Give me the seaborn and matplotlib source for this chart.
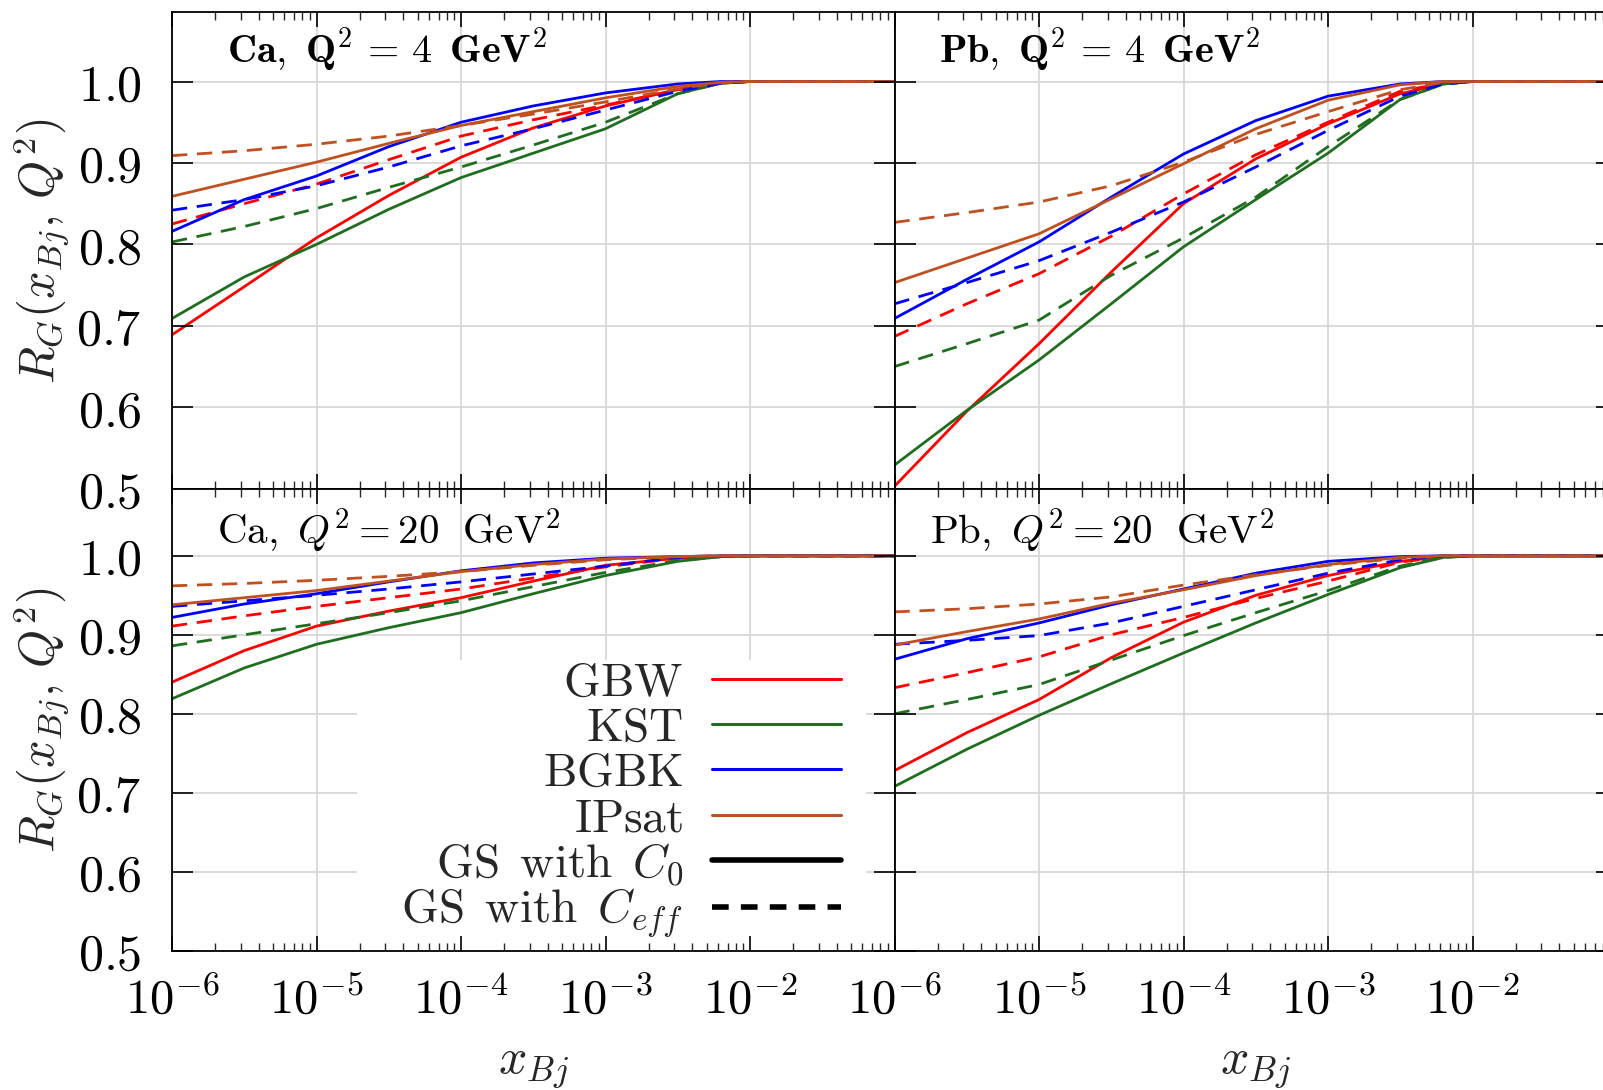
import numpy as np
import pandas as pd
import matplotlib
matplotlib.use("Agg")
import matplotlib.pyplot as plt
import seaborn as sns
from matplotlib.lines import Line2D
from matplotlib.patches import Rectangle
from matplotlib.ticker import FixedLocator, FuncFormatter, LogLocator, NullFormatter

# ---------------- data ----------------
xbj = [1e-6, 3.16e-6, 1e-5, 3.16e-5, 1e-4, 3.16e-4, 1e-3, 3.16e-3, 6.3e-3, 1e-2, 1e-1]

models = ["GBW", "KST", "BGBK", "IPsat"]
colors = ["#ff0000", "#1f6e1f", "#0000ff", "#c0501f"]

# Ca, Q^2 = 4 GeV^2
ca4_gbw_c0 = [0.689, 0.748, 0.808, 0.860, 0.907, 0.943, 0.970, 0.990, 0.998, 1.0, 1.0]
ca4_kst_c0 = [0.709, 0.760, 0.800, 0.843, 0.882, 0.912, 0.942, 0.985, 0.998, 1.0, 1.0]
ca4_bgbk_c0 = [0.816, 0.855, 0.884, 0.920, 0.950, 0.970, 0.986, 0.997, 1.0, 1.0, 1.0]
ca4_ipsat_c0 = [0.859, 0.880, 0.901, 0.924, 0.946, 0.963, 0.980, 0.994, 0.999, 1.0, 1.0]
ca4_gbw_ce = [0.825, 0.850, 0.874, 0.904, 0.933, 0.953, 0.971, 0.990, 0.998, 1.0, 1.0]
ca4_kst_ce = [0.803, 0.822, 0.844, 0.870, 0.895, 0.922, 0.950, 0.985, 0.998, 1.0, 1.0]
ca4_bgbk_ce = [0.842, 0.855, 0.872, 0.895, 0.921, 0.942, 0.965, 0.988, 0.998, 1.0, 1.0]
ca4_ipsat_ce = [0.909, 0.915, 0.923, 0.933, 0.946, 0.960, 0.975, 0.991, 0.999, 1.0, 1.0]

# Pb, Q^2 = 4 GeV^2
pb4_gbw_c0 = [0.503, 0.595, 0.678, 0.766, 0.850, 0.905, 0.948, 0.985, 0.997, 1.0, 1.0]
pb4_kst_c0 = [0.529, 0.596, 0.658, 0.727, 0.797, 0.855, 0.912, 0.978, 0.997, 1.0, 1.0]
pb4_bgbk_c0 = [0.709, 0.757, 0.803, 0.858, 0.911, 0.952, 0.982, 0.997, 1.0, 1.0, 1.0]
pb4_ipsat_c0 = [0.753, 0.783, 0.813, 0.856, 0.899, 0.942, 0.977, 0.996, 1.0, 1.0, 1.0]
pb4_gbw_ce = [0.687, 0.727, 0.764, 0.810, 0.862, 0.910, 0.950, 0.988, 0.998, 1.0, 1.0]
pb4_kst_ce = [0.650, 0.678, 0.707, 0.762, 0.808, 0.858, 0.920, 0.978, 0.997, 1.0, 1.0]
pb4_bgbk_ce = [0.727, 0.753, 0.780, 0.815, 0.852, 0.895, 0.940, 0.982, 0.997, 1.0, 1.0]
pb4_ipsat_ce = [0.827, 0.839, 0.852, 0.872, 0.901, 0.935, 0.963, 0.990, 0.999, 1.0, 1.0]

# Ca, Q^2 = 20 GeV^2
ca20_gbw_c0 = [0.840, 0.880, 0.911, 0.930, 0.947, 0.968, 0.988, 0.997, 0.999, 1.0, 1.0]
ca20_kst_c0 = [0.819, 0.858, 0.888, 0.909, 0.928, 0.952, 0.975, 0.993, 0.999, 1.0, 1.0]
ca20_bgbk_c0 = [0.922, 0.939, 0.952, 0.967, 0.981, 0.991, 0.997, 0.999, 1.0, 1.0, 1.0]
ca20_ipsat_c0 = [0.938, 0.947, 0.956, 0.968, 0.980, 0.989, 0.996, 0.999, 1.0, 1.0, 1.0]
ca20_gbw_ce = [0.911, 0.924, 0.936, 0.947, 0.958, 0.972, 0.986, 0.997, 0.999, 1.0, 1.0]
ca20_kst_ce = [0.886, 0.900, 0.914, 0.928, 0.943, 0.961, 0.979, 0.994, 0.999, 1.0, 1.0]
ca20_bgbk_ce = [0.936, 0.943, 0.950, 0.958, 0.967, 0.977, 0.987, 0.998, 1.0, 1.0, 1.0]
ca20_ipsat_ce = [0.962, 0.965, 0.969, 0.974, 0.980, 0.988, 0.995, 0.999, 1.0, 1.0, 1.0]

# Pb, Q^2 = 20 GeV^2
pb20_gbw_c0 = [0.728, 0.776, 0.818, 0.871, 0.916, 0.950, 0.975, 0.993, 0.999, 1.0, 1.0]
pb20_kst_c0 = [0.708, 0.755, 0.798, 0.838, 0.877, 0.915, 0.951, 0.985, 0.998, 1.0, 1.0]
pb20_bgbk_c0 = [0.869, 0.895, 0.915, 0.938, 0.958, 0.978, 0.993, 0.999, 1.0, 1.0, 1.0]
pb20_ipsat_c0 = [0.887, 0.904, 0.920, 0.940, 0.957, 0.975, 0.989, 0.998, 1.0, 1.0, 1.0]
pb20_gbw_ce = [0.833, 0.852, 0.872, 0.900, 0.922, 0.946, 0.968, 0.992, 0.999, 1.0, 1.0]
pb20_kst_ce = [0.800, 0.818, 0.837, 0.868, 0.899, 0.928, 0.956, 0.987, 0.998, 1.0, 1.0]
pb20_bgbk_ce = [0.888, 0.893, 0.899, 0.915, 0.936, 0.957, 0.978, 0.995, 1.0, 1.0, 1.0]
pb20_ipsat_ce = [0.929, 0.933, 0.939, 0.948, 0.963, 0.976, 0.988, 0.997, 1.0, 1.0, 1.0]

panel_titles = [r"$\mathbf{Ca,\ Q^2\,=\,4\ \,GeV^2}$", r"$\mathbf{Pb,\ Q^2\,=\,4\ \,GeV^2}$",
                r"$\mathrm{Ca,\ }Q^2=\mathrm{20\ \ GeV}^2$", r"$\mathrm{Pb,\ }Q^2=\mathrm{20\ \ GeV}^2$"]

panel_series = [
    {"C0": [ca4_gbw_c0, ca4_kst_c0, ca4_bgbk_c0, ca4_ipsat_c0],
     "Ceff": [ca4_gbw_ce, ca4_kst_ce, ca4_bgbk_ce, ca4_ipsat_ce]},
    {"C0": [pb4_gbw_c0, pb4_kst_c0, pb4_bgbk_c0, pb4_ipsat_c0],
     "Ceff": [pb4_gbw_ce, pb4_kst_ce, pb4_bgbk_ce, pb4_ipsat_ce]},
    {"C0": [ca20_gbw_c0, ca20_kst_c0, ca20_bgbk_c0, ca20_ipsat_c0],
     "Ceff": [ca20_gbw_ce, ca20_kst_ce, ca20_bgbk_ce, ca20_ipsat_ce]},
    {"C0": [pb20_gbw_c0, pb20_kst_c0, pb20_bgbk_c0, pb20_ipsat_c0],
     "Ceff": [pb20_gbw_ce, pb20_kst_ce, pb20_bgbk_ce, pb20_ipsat_ce]},
]

# ---------------- style ----------------
sns.set_theme(style="white")
plt.rcParams.update({
    "font.family": ["DejaVu Serif"],
    "mathtext.fontset": "cm",
    "axes.edgecolor": "black",
    "axes.linewidth": 1.3,
})

fig = plt.figure(figsize=(16.03, 10.90), dpi=100)
W, H = 1603.0, 1090.0
left_x0, right_x0, pw = 172.0, 894.5, 722.5
top_y0, mid_y, bot_y1 = 12.3, 488.7, 950.7

rects = [
    (left_x0 / W, 1 - mid_y / H, pw / W, (mid_y - top_y0) / H),
    (right_x0 / W, 1 - mid_y / H, pw / W, (mid_y - top_y0) / H),
    (left_x0 / W, 1 - bot_y1 / H, pw / W, (bot_y1 - mid_y) / H),
    (right_x0 / W, 1 - bot_y1 / H, pw / W, (bot_y1 - mid_y) / H),
]
axes = [fig.add_axes(r) for r in rects]

palette = dict(zip(models, colors))
dash_map = {"C0": "", "Ceff": (5.5, 3.5)}

title_pos = [(0.076, 0.894), (0.061, 0.894), (0.062, 0.880), (0.049, 0.880)]
title_size = [29, 29, 29.5, 29.5]


def dec_label(v, p):
    if v > 0.05:
        return ""
    return rf"$10^{{{int(round(np.log10(v)))}}}$"


for i, ax in enumerate(axes):
    rows = []
    for cname in ["C0", "Ceff"]:
        for m, vals in zip(models, panel_series[i][cname]):
            for xv, yv in zip(xbj, vals):
                rows.append({"x": xv, "R": yv, "model": m, "C": cname})
    df = pd.DataFrame(rows)
    sns.lineplot(data=df, x="x", y="R", hue="model", style="C", palette=palette,
                 dashes=dash_map, linewidth=2.0, legend=False, ax=ax,
                 estimator=None, sort=False, hue_order=models, style_order=["C0", "Ceff"])
    ax.set_xscale("log")
    ax.set_xlim(1e-6, 1e-1)
    ax.set_ylim(0.5, 1.085)
    ax.set_xlabel("")
    ax.set_ylabel("")
    ax.grid(False)
    ax.set_axisbelow(False)
    ax.xaxis.set_major_locator(LogLocator(base=10, numticks=10))
    ax.xaxis.set_minor_locator(LogLocator(base=10, subs=np.arange(2, 10), numticks=20))
    ax.xaxis.set_minor_formatter(NullFormatter())
    ax.yaxis.set_major_locator(FixedLocator([0.5, 0.6, 0.7, 0.8, 0.9, 1.0]))
    # grid lines at the major tick positions, kept beneath everything
    for v in ax.get_xticks():
        ax.axvline(v, color="#d8d8d8", linewidth=1.3, zorder=0.3)
    for v in ax.get_yticks():
        ax.axhline(v, color="#d8d8d8", linewidth=1.3, zorder=0.3)
    ax.tick_params(axis="x", which="major", direction="in", length=11, width=1.2,
                   top=True, bottom=True, labelsize=35, pad=19, colors="black")
    ax.tick_params(axis="x", which="minor", direction="in", length=6, width=1.0,
                   top=True, bottom=True)
    ax.tick_params(axis="y", which="major", direction="in", length=15, width=1.2,
                   left=True, right=True, labelsize=36, pad=22, colors="black")
    for s in ax.spines.values():
        s.set_color("black")
        s.set_linewidth(1.3)
    ax.text(title_pos[i][0], title_pos[i][1], panel_titles[i], transform=ax.transAxes,
            fontsize=title_size[i], va="baseline", ha="left", color="black")

    if i in (0, 2):
        ax.yaxis.set_major_formatter(FuncFormatter(lambda v, p: rf"${v:.1f}$"))
        ax.set_ylabel(r"$R_G(x_{Bj},\, Q^2)$", fontsize=35)
        ax.yaxis.set_label_coords(-0.138, 0.5)
    else:
        ax.yaxis.set_major_formatter(FuncFormatter(lambda v, p: ""))
    if i in (2, 3):
        ax.xaxis.set_major_formatter(FuncFormatter(dec_label))
        ax.set_xlabel(r"$x_{Bj}$", fontsize=36)
        ax.xaxis.set_label_coords(0.5, -0.195)
    else:
        ax.xaxis.set_major_formatter(FuncFormatter(lambda v, p: ""))

# opaque key background (hides the grid behind the key)
axes[2].add_patch(Rectangle((0.2554, 0.0), 0.9606 - 0.2554, 0.629, transform=axes[2].transAxes,
                            facecolor="white", edgecolor="none", zorder=0.4))

# legend in lower-left panel
handles = [Line2D([], [], color=c, lw=2.2) for c in colors]
handles += [Line2D([], [], color="black", lw=4.0),
            Line2D([], [], color="black", lw=4.0, dashes=(3.0, 2.2))]
labels = [r"$\mathrm{GBW}$", r"$\mathrm{KST}$", r"$\mathrm{BGBK}$", r"$\mathrm{IPsat}$",
          r"$\mathrm{GS\ \,with\ \,}C_0$", r"$\mathrm{GS\ \,with\ \,}C_{eff}$"]
leg = axes[2].legend(handles, labels, loc="lower right", bbox_to_anchor=(0.926, 0.023),
                     markerfirst=False, frameon=False,
                     fontsize=34, handlelength=2.73, handletextpad=0.61,
                     labelspacing=0.0, borderpad=0.0, borderaxespad=0.0)
leg.set_zorder(10)

fig.savefig("out.png", dpi=100)
